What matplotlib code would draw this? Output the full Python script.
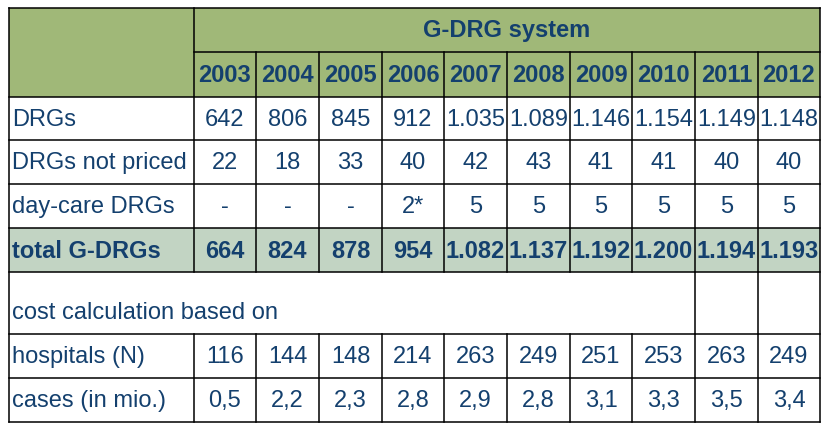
import matplotlib
matplotlib.use("Agg")
import matplotlib.pyplot as plt
from matplotlib.patches import Rectangle

# ---- data ----
header_title = "G-DRG system"
years = ["2003", "2004", "2005", "2006", "2007", "2008", "2009", "2010", "2011", "2012"]
row_labels = ["DRGs", "DRGs not priced", "day-care DRGs", "total G-DRGs"]
drgs = ["642", "806", "845", "912", "1.035", "1.089", "1.146", "1.154", "1.149", "1.148"]
not_priced = ["22", "18", "33", "40", "42", "43", "41", "41", "40", "40"]
day_care = ["-", "-", "-", "2*", "5", "5", "5", "5", "5", "5"]
total = ["664", "824", "878", "954", "1.082", "1.137", "1.192", "1.200", "1.194", "1.193"]
cost_label = "cost calculation based on"
bottom_labels = ["hospitals (N)", "cases (in mio.)"]
hospitals = ["116", "144", "148", "214", "263", "249", "251", "253", "263", "249"]
cases = ["0,5", "2,2", "2,3", "2,8", "2,9", "2,8", "3,1", "3,3", "3,5", "3,4"]

# ---- layout (pixels) ----
W, H = 834, 433
col_edges = [9, 194, 256, 319, 382, 444, 507, 570, 632, 695, 758, 820]
row_edges = [8, 52, 97, 140, 184, 228, 272, 334, 378, 422]

GREEN = "#A0B878"
TOTAL = "#C2D4C3"
TXT = "#14406E"
FS = 17
FONT = ["Liberation Sans", "DejaVu Sans"]
LW = 1.1

fig = plt.figure(figsize=(W / 100, H / 100), dpi=100)
ax = fig.add_axes([0, 0, 1, 1])
ax.set_xlim(0, W)
ax.set_ylim(H, 0)
ax.axis("off")

L, R = col_edges[0], col_edges[-1]

# fills
ax.add_patch(Rectangle((L, row_edges[0]), R - L, row_edges[2] - row_edges[0],
                       facecolor=GREEN, edgecolor="none", zorder=0))
ax.add_patch(Rectangle((L, row_edges[5]), R - L, row_edges[6] - row_edges[5],
                       facecolor=TOTAL, edgecolor="none", zorder=0))

def hline(y, x0, x1):
    ax.plot([x0, x1], [y, y], color="black", lw=LW, solid_capstyle="projecting", zorder=2)

def vline(x, y0, y1):
    ax.plot([x, x], [y0, y1], color="black", lw=LW, solid_capstyle="projecting", zorder=2)

# horizontal lines
for i, y in enumerate(row_edges):
    if i == 1:
        hline(y, col_edges[1], R)
    else:
        hline(y, L, R)

# vertical lines
vline(L, row_edges[0], row_edges[-1])
vline(R, row_edges[0], row_edges[-1])
# first column divider (not through cost row)
vline(col_edges[1], row_edges[0], row_edges[6])
vline(col_edges[1], row_edges[7], row_edges[-1])
# year dividers
for j, x in enumerate(col_edges[2:-1], start=2):
    vline(x, row_edges[1], row_edges[6])
    vline(x, row_edges[7], row_edges[-1])
    if j >= 9:
        vline(x, row_edges[6], row_edges[7])

def cx(j):
    return (col_edges[j + 1] + col_edges[j + 2]) / 2

def cy(i):
    return (row_edges[i] + row_edges[i + 1]) / 2 + 1

# header
ax.text((col_edges[1] + R) / 2, cy(0), header_title, ha="center", va="center",
        fontsize=FS, fontweight="bold", color=TXT, family=FONT)
for j, yr in enumerate(years):
    ax.text(cx(j), cy(1), yr, ha="center", va="center", fontsize=FS,
            fontweight="bold", color=TXT, family=FONT)

# body rows
body = [drgs, not_priced, day_care, total]
for k, (lab, vals) in enumerate(zip(row_labels, body)):
    i = 2 + k
    bold = "bold" if k == 3 else "normal"
    ax.text(L + 3, cy(i), lab, ha="left", va="center", fontsize=FS,
            fontweight=bold, color=TXT, family=FONT)
    for j, v in enumerate(vals):
        ax.text(cx(j), cy(i), v, ha="center", va="center", fontsize=FS,
                fontweight=bold, color=TXT, family=FONT)

# cost calculation row
ax.text(L + 3, row_edges[7] - 21, cost_label, ha="left", va="center",
        fontsize=FS, color=TXT, family=FONT)

for k, (lab, vals) in enumerate(zip(bottom_labels, [hospitals, cases])):
    i = 7 + k
    ax.text(L + 3, cy(i), lab, ha="left", va="center", fontsize=FS,
            color=TXT, family=FONT)
    for j, v in enumerate(vals):
        ax.text(cx(j), cy(i), v, ha="center", va="center", fontsize=FS,
                color=TXT, family=FONT)

fig.savefig("out.png", dpi=100, facecolor="white")
